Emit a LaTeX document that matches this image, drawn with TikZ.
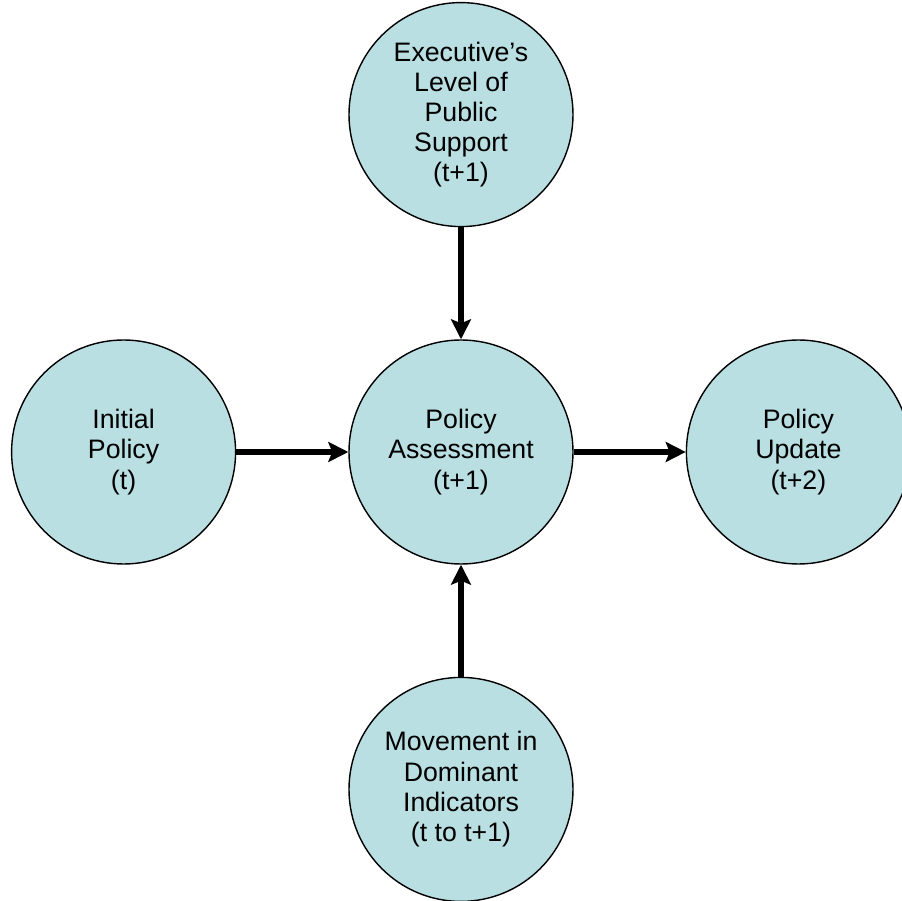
\documentclass[tikz,border=0pt]{standalone}
\usepackage{fontspec}
\setmainfont{Liberation Sans}
\usepackage{tikz}
\usetikzlibrary{arrows.meta, positioning}
\definecolor{stateFill}{RGB}{185,223,226}
\tikzstyle{stateCircle} = [shape=circle, draw=black, line width=1pt, 
	fill=stateFill, text=black, align=center, minimum size=5.6cm, inner sep=0pt,
	font=\fontsize{19}{21.5}\selectfont]
\tikzstyle{flowArrow} = [line width=4.5pt, 
	-{Stealth[length=0.5cm, width=0.5cm, inset=0.1cm]}]

\begin{document}
\begin{tikzpicture}[node distance = 2.8cm]
  \useasboundingbox (-11.525,-11.225) rectangle (11.025,11.3);
  \node[stateCircle] (assess) {Policy\\Assessment\\(t+1)};
  \node[stateCircle, above = of assess] (support)
  	{Executive’s\\Level of\\Public\\Support\\(t+1)};
  \node[stateCircle, left = of assess] (initial) {Initial\\Policy\\(t)};
  \node[stateCircle, right = of assess] (update) {Policy\\Update\\(t+2)};
  \node[stateCircle, below = of assess] (indic)
  	{Movement in\\Dominant\\Indicators\\(t to t+1)};
  % arrows into and out of the assessment
  \draw[flowArrow] (support) -- (assess);
  \draw[flowArrow] (initial) -- (assess);
  \draw[flowArrow] (indic) -- (assess);
  \draw[flowArrow] (assess) -- (update);
\end{tikzpicture}
\end{document}
